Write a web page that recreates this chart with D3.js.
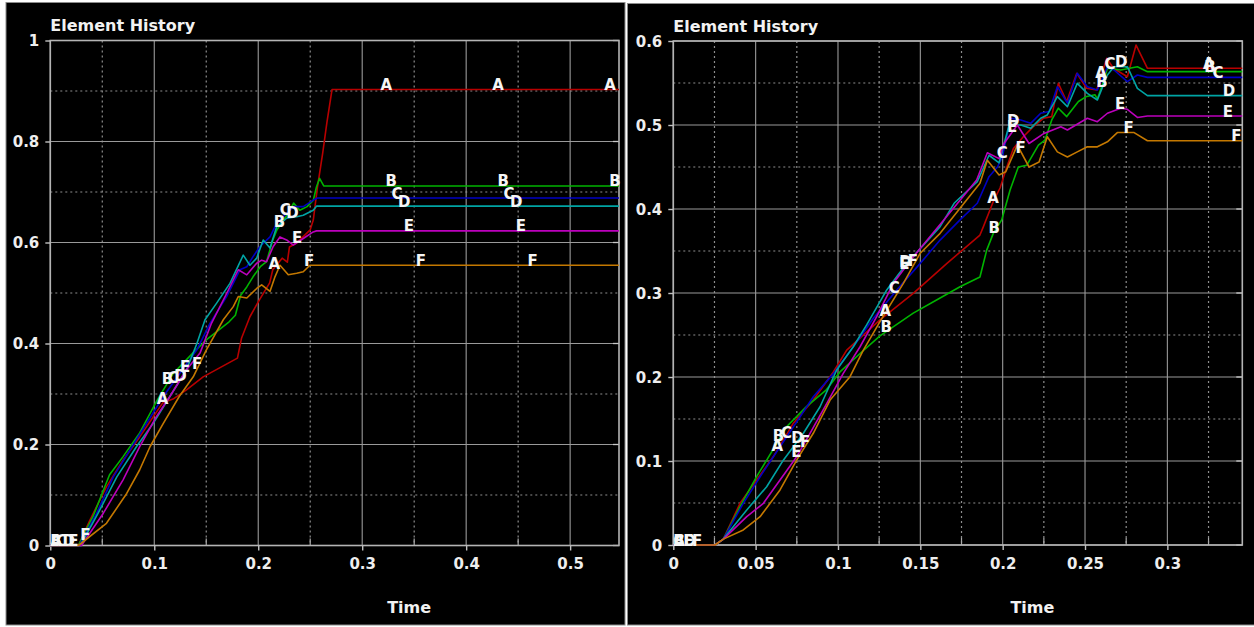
<!DOCTYPE html>
<html><head><meta charset="utf-8">
<script src="https://cdn.jsdelivr.net/npm/d3@7"></script>
<style>
html,body{margin:0;padding:0;background:#fff;}
svg{display:block;}
text{font-family:"DejaVu Sans",Verdana,sans-serif;font-weight:bold;}
</style></head><body>
<svg id="chart" width="1254" height="627"></svg>
<script>
// ---------- DATA ----------
const seriesNames = ["A","B","C","D","E","F"];

// Left panel: [time, value]
const leftA = [[0,0],[0.027,0],[0.038,0.05],[0.054,0.116],[0.070,0.169],[0.086,0.215],[0.099,0.255],[0.108,0.282],[0.118,0.290],[0.131,0.308],[0.147,0.334],[0.180,0.371],[0.184,0.411],[0.192,0.453],[0.201,0.486],[0.211,0.520],[0.214,0.546],[0.223,0.569],[0.228,0.561],[0.230,0.591],[0.237,0.599],[0.243,0.611],[0.250,0.625],[0.253,0.645],[0.255,0.678],[0.257,0.710],[0.262,0.777],[0.266,0.837],[0.271,0.903],[0.547,0.903]];
const leftB = [[0,0],[0.027,0],[0.041,0.057],[0.057,0.140],[0.070,0.176],[0.086,0.223],[0.102,0.285],[0.118,0.340],[0.137,0.381],[0.150,0.407],[0.172,0.443],[0.178,0.456],[0.183,0.495],[0.189,0.512],[0.195,0.532],[0.202,0.552],[0.208,0.562],[0.214,0.605],[0.218,0.625],[0.224,0.644],[0.229,0.658],[0.234,0.678],[0.240,0.664],[0.247,0.671],[0.253,0.684],[0.256,0.710],[0.259,0.727],[0.263,0.712],[0.547,0.712]];
const leftC = [[0,0],[0.028,0],[0.0446,0.064],[0.0606,0.136],[0.0766,0.189],[0.0927,0.242],[0.1087,0.295],[0.1247,0.341],[0.1408,0.387],[0.1536,0.440],[0.1696,0.493],[0.1824,0.546],[0.189,0.552],[0.195,0.572],[0.2017,0.592],[0.2113,0.611],[0.2177,0.638],[0.224,0.651],[0.2337,0.671],[0.2433,0.671],[0.253,0.684],[0.257,0.688],[0.547,0.688]];
const leftD = [[0,0],[0.029,0],[0.046,0.064],[0.064,0.136],[0.083,0.196],[0.099,0.242],[0.115,0.295],[0.131,0.348],[0.141,0.400],[0.1488,0.447],[0.160,0.480],[0.1728,0.519],[0.1856,0.575],[0.192,0.555],[0.1985,0.569],[0.2048,0.605],[0.2113,0.589],[0.2177,0.631],[0.2273,0.648],[0.237,0.651],[0.2433,0.654],[0.2529,0.664],[0.256,0.672],[0.547,0.672]];
const leftE = [[0,0],[0.03,0],[0.051,0.064],[0.070,0.130],[0.086,0.196],[0.102,0.255],[0.115,0.295],[0.131,0.348],[0.144,0.381],[0.155,0.440],[0.1696,0.499],[0.1808,0.546],[0.189,0.536],[0.1985,0.559],[0.2033,0.565],[0.208,0.562],[0.2144,0.592],[0.2209,0.611],[0.2273,0.605],[0.2337,0.595],[0.2433,0.608],[0.2529,0.621],[0.256,0.623],[0.547,0.623]];
const leftF = [[0,0],[0.027,0],[0.054,0.044],[0.0735,0.103],[0.086,0.150],[0.096,0.196],[0.1087,0.242],[0.124,0.295],[0.1375,0.334],[0.150,0.387],[0.1664,0.447],[0.176,0.473],[0.1808,0.493],[0.189,0.490],[0.1985,0.509],[0.2033,0.516],[0.2113,0.503],[0.2161,0.532],[0.2209,0.555],[0.2289,0.536],[0.237,0.539],[0.2433,0.542],[0.2497,0.555],[0.547,0.555]];

// Right panel: [time, value]
const rightA = [[0,0],[0.0253,0],[0.0304,0.007],[0.0405,0.0496],[0.0506,0.0774],[0.0607,0.105],[0.0729,0.145],[0.085,0.1726],[0.0972,0.206],[0.1053,0.232],[0.1255,0.268],[0.1457,0.2996],[0.166,0.335],[0.1862,0.369],[0.1883,0.379],[0.1943,0.409],[0.1984,0.425],[0.2025,0.450],[0.2065,0.472],[0.2125,0.486],[0.2186,0.498],[0.2247,0.508],[0.2298,0.510],[0.2338,0.5496],[0.2389,0.528],[0.245,0.5615],[0.251,0.5437],[0.2571,0.5417],[0.2632,0.5794],[0.2672,0.5675],[0.2757,0.5575],[0.281,0.5952],[0.2879,0.5675],[0.3455,0.5675]];
const rightB = [[0,0],[0.0253,0],[0.0304,0.007],[0.0405,0.0456],[0.0506,0.0813],[0.0567,0.101],[0.0689,0.141],[0.081,0.165],[0.0931,0.185],[0.1012,0.206],[0.1134,0.228],[0.1255,0.249],[0.1457,0.276],[0.162,0.294],[0.1741,0.3075],[0.1862,0.319],[0.1903,0.351],[0.1943,0.371],[0.1994,0.387],[0.2045,0.4226],[0.2095,0.450],[0.2146,0.452],[0.2217,0.476],[0.2257,0.482],[0.2298,0.506],[0.2338,0.520],[0.2389,0.510],[0.246,0.528],[0.251,0.534],[0.256,0.536],[0.2575,0.531],[0.2615,0.5536],[0.2636,0.5675],[0.2717,0.5655],[0.2818,0.5694],[0.2879,0.5635],[0.3455,0.5635]];
const rightC = [[0,0],[0.0253,0],[0.0304,0.007],[0.0425,0.0496],[0.0527,0.0813],[0.0648,0.117],[0.077,0.1527],[0.085,0.1765],[0.0972,0.204],[0.1093,0.236],[0.1215,0.270],[0.1357,0.3036],[0.1498,0.335],[0.162,0.363],[0.1741,0.387],[0.1846,0.4068],[0.1917,0.4385],[0.1968,0.450],[0.1998,0.462],[0.2049,0.508],[0.211,0.506],[0.217,0.502],[0.2231,0.514],[0.2282,0.516],[0.2332,0.5456],[0.2393,0.526],[0.2453,0.5615],[0.2514,0.5456],[0.2575,0.5417],[0.2636,0.5694],[0.2676,0.5655],[0.2757,0.5516],[0.2818,0.5595],[0.2879,0.5567],[0.3455,0.5567]];
const rightD = [[0,0],[0.0253,0],[0.0304,0.007],[0.0446,0.0417],[0.0567,0.0694],[0.0668,0.101],[0.079,0.133],[0.0891,0.1646],[0.0992,0.2083],[0.1093,0.236],[0.1174,0.262],[0.1296,0.3036],[0.1417,0.335],[0.162,0.379],[0.1705,0.4068],[0.1846,0.4325],[0.1917,0.464],[0.1978,0.455],[0.2039,0.5],[0.211,0.5],[0.217,0.496],[0.2231,0.508],[0.2271,0.512],[0.2332,0.5337],[0.2393,0.5218],[0.2453,0.5496],[0.2514,0.5377],[0.2575,0.5298],[0.2636,0.5595],[0.2676,0.5694],[0.2757,0.5694],[0.2818,0.5437],[0.2879,0.535],[0.3455,0.535]];
const rightE = [[0,0],[0.0253,0],[0.0304,0.007],[0.0446,0.0337],[0.0547,0.0496],[0.0648,0.0774],[0.0749,0.105],[0.083,0.133],[0.0932,0.1687],[0.1032,0.2044],[0.1134,0.236],[0.1235,0.272],[0.1336,0.3115],[0.1457,0.343],[0.166,0.391],[0.1842,0.4345],[0.1907,0.467],[0.1978,0.460],[0.2008,0.478],[0.2089,0.5],[0.216,0.478],[0.2251,0.490],[0.2353,0.498],[0.2393,0.494],[0.2514,0.508],[0.2575,0.504],[0.2636,0.514],[0.2717,0.520],[0.2757,0.5187],[0.2818,0.509],[0.2879,0.5107],[0.3455,0.5107]];
const rightF = [[0,0],[0.0253,0],[0.0304,0.007],[0.0425,0.0179],[0.0527,0.0337],[0.0648,0.0655],[0.0749,0.101],[0.085,0.133],[0.0952,0.1726],[0.1073,0.2004],[0.1154,0.232],[0.1255,0.266],[0.1397,0.3115],[0.1498,0.347],[0.162,0.371],[0.1862,0.4306],[0.1907,0.458],[0.1978,0.4405],[0.2019,0.4444],[0.2089,0.476],[0.216,0.450],[0.2221,0.456],[0.2271,0.486],[0.2332,0.468],[0.2393,0.462],[0.2453,0.468],[0.2514,0.474],[0.2575,0.474],[0.2636,0.480],[0.2696,0.491],[0.2798,0.491],[0.2879,0.4813],[0.3455,0.4813]];

// Axes / ticks
const leftXDomain = [0, 0.547];
const leftYDomain = [0, 1];
const leftXTicks = [0, 0.1, 0.2, 0.3, 0.4, 0.5];
const leftXTickLabels = ["0", "0.1", "0.2", "0.3", "0.4", "0.5"];
const leftXMinor = [0.05, 0.15, 0.25, 0.35, 0.45];
const leftYTicks = [0, 0.2, 0.4, 0.6, 0.8, 1];
const leftYTickLabels = ["0", "0.2", "0.4", "0.6", "0.8", "1"];
const leftYMinor = [0.1, 0.3, 0.5, 0.7, 0.9];

const rightXDomain = [0, 0.3455];
const rightYDomain = [0, 0.6];
const rightXTicks = [0, 0.05, 0.1, 0.15, 0.2, 0.25, 0.3];
const rightXTickLabels = ["0", "0.05", "0.1", "0.15", "0.2", "0.25", "0.3"];
const rightXMinor = [0.025, 0.075, 0.125, 0.175, 0.225, 0.275, 0.325];
const rightYTicks = [0, 0.1, 0.2, 0.3, 0.4, 0.5, 0.6];
const rightYTickLabels = ["0", "0.1", "0.2", "0.3", "0.4", "0.5", "0.6"];
const rightYMinor = [0.05, 0.15, 0.25, 0.35, 0.45, 0.55];

// Curve letter labels: group positions (time) and per-series time offsets
const leftLabelStarts = [0, 0.1076, 0.2152, 0.3228, 0.4304, 0.538];
const leftLabelOffsets = [0, 0.005, 0.0107, 0.017, 0.0225, 0.034];
const rightLabelStarts = [-0.0025, 0.063, 0.1285, 0.194, 0.2595, 0.325];
const rightLabelOffsets = [0, 0.0007, 0.0057, 0.012, 0.012, 0.0172];

const titleText = "Element History";
const xAxisTitle = "Time";

// ---------- STYLE / LAYOUT ----------
const seriesColors = ["#b80000", "#00b400", "#0000c4", "#00a4a4", "#bc00bc", "#c47800"];
const svg = d3.select("#chart");

svg.append("rect").attr("x", 0).attr("y", 0).attr("width", 1254).attr("height", 627).attr("fill", "#fff");
svg.append("rect").attr("x", 6).attr("y", 2.5).attr("width", 619).attr("height", 622.5)
  .attr("fill", "#000").attr("stroke", "#8c8c8c").attr("stroke-width", 1);
svg.append("rect").attr("x", 627.5).attr("y", 3.5).attr("width", 627).attr("height", 621.5)
  .attr("fill", "#000").attr("stroke", "#8c8c8c").attr("stroke-width", 1);

function interp(series, t) {
  if (t <= series[0][0]) return series[0][1];
  for (let i = 1; i < series.length; i++) {
    if (t <= series[i][0]) {
      const a = series[i - 1], b = series[i];
      return a[1] + (b[1] - a[1]) * (t - a[0]) / (b[0] - a[0]);
    }
  }
  return series[series.length - 1][1];
}

function drawPanel(cfg) {
  const g = svg.append("g");
  const x = d3.scaleLinear().domain(cfg.xDomain).range([cfg.x0, cfg.x1]);
  const y = d3.scaleLinear().domain(cfg.yDomain).range([cfg.y1, cfg.y0]);

  g.selectAll(".mx").data(cfg.xMinor).enter().append("line")
    .attr("x1", d => x(d)).attr("x2", d => x(d)).attr("y1", cfg.y0).attr("y2", cfg.y1)
    .attr("stroke", "#8e8e8e").attr("stroke-width", 1.2).attr("stroke-dasharray", "2,3");
  g.selectAll(".my").data(cfg.yMinor).enter().append("line")
    .attr("y1", d => y(d)).attr("y2", d => y(d)).attr("x1", cfg.x0).attr("x2", cfg.x1)
    .attr("stroke", "#8e8e8e").attr("stroke-width", 1.2).attr("stroke-dasharray", "2,3");
  g.selectAll(".gx").data(cfg.xTicks).enter().append("line")
    .attr("x1", d => x(d)).attr("x2", d => x(d)).attr("y1", cfg.y0).attr("y2", cfg.y1)
    .attr("stroke", "#9a9a9a").attr("stroke-width", 1.1);
  g.selectAll(".gy").data(cfg.yTicks).enter().append("line")
    .attr("y1", d => y(d)).attr("y2", d => y(d)).attr("x1", cfg.x0).attr("x2", cfg.x1)
    .attr("stroke", "#9a9a9a").attr("stroke-width", 1.1);
  g.selectAll(".tmx").data(cfg.xMinor).enter().append("line")
    .attr("x1", d => x(d)).attr("x2", d => x(d)).attr("y1", cfg.y1).attr("y2", cfg.y1 - 7)
    .attr("stroke", "#a8a8a8").attr("stroke-width", 1.2);
  g.selectAll(".try").data(cfg.yTicks).enter().append("line")
    .attr("y1", d => y(d)).attr("y2", d => y(d)).attr("x1", cfg.x1 - 6).attr("x2", cfg.x1)
    .attr("stroke", "#c8c8c8").attr("stroke-width", 1.3);

  g.append("rect").attr("x", cfg.x0).attr("y", cfg.y0)
    .attr("width", cfg.x1 - cfg.x0).attr("height", cfg.y1 - cfg.y0)
    .attr("fill", "none").attr("stroke", "#b4b4b4").attr("stroke-width", 1.6);

  const xAxis = d3.axisBottom(x).tickValues(cfg.xTicks)
    .tickFormat((d, i) => cfg.xTickLabels[i]).tickSize(5).tickPadding(8);
  const yAxis = d3.axisLeft(y).tickValues(cfg.yTicks)
    .tickFormat((d, i) => cfg.yTickLabels[i]).tickSize(5).tickPadding(6);
  const gx = g.append("g").attr("transform", `translate(0,${cfg.y1})`).call(xAxis);
  const gy = g.append("g").attr("transform", `translate(${cfg.x0},0)`).call(yAxis);
  [gx, gy].forEach(a => {
    a.select(".domain").remove();
    a.selectAll(".tick line").attr("stroke", "#c0c0c0").attr("stroke-width", 1.4);
    a.selectAll(".tick text").attr("fill", "#eeeeee")
      .style("font-family", '"DejaVu Sans",Verdana,sans-serif')
      .style("font-weight", "bold").style("font-size", "15px");
  });
  gy.selectAll(".tick text").attr("dy", "0.36em");

  const line = d3.line().x(d => x(d[0])).y(d => y(d[1]));
  cfg.series.forEach((s, i) => {
    g.append("path").datum(s).attr("d", line).attr("fill", "none")
      .attr("stroke", seriesColors[i]).attr("stroke-width", 1.6)
      .attr("stroke-linejoin", "round");
  });

  const tMax = cfg.xDomain[1];
  cfg.series.forEach((s, i) => {
    cfg.labelStarts.forEach(st => {
      const tc = st + cfg.labelOffsets[i];
      if (tc > tMax) return;
      let xc = x(tc);
      const xs = Math.max(cfg.x0, xc - 5.5);
      xc = xs + 5.5;
      const tv = x.invert(xc);
      const yy = y(interp(s, tv));
      g.append("text").attr("x", xs).attr("y", yy + 0.5)
        .attr("fill", "#f6f6f6").style("font-size", "15px")
        .text(seriesNames[i]);
    });
  });

  g.append("text").attr("x", cfg.x0).attr("y", cfg.titleY)
    .attr("fill", "#f2f2f2").style("font-size", "16px").text(titleText);
  g.append("text").attr("x", cfg.x0 + 0.631 * (cfg.x1 - cfg.x0)).attr("y", 613)
    .attr("text-anchor", "middle").attr("fill", "#f2f2f2").style("font-size", "16px").text(xAxisTitle);
}

drawPanel({
  x0: 50.3, x1: 619, y0: 40.5, y1: 545.5, titleY: 31,
  xDomain: leftXDomain, yDomain: leftYDomain,
  xTicks: leftXTicks, xTickLabels: leftXTickLabels, xMinor: leftXMinor,
  yTicks: leftYTicks, yTickLabels: leftYTickLabels, yMinor: leftYMinor,
  series: [leftA, leftB, leftC, leftD, leftE, leftF],
  labelStarts: leftLabelStarts, labelOffsets: leftLabelOffsets
});
drawPanel({
  x0: 673.3, x1: 1242.3, y0: 41, y1: 545, titleY: 32,
  xDomain: rightXDomain, yDomain: rightYDomain,
  xTicks: rightXTicks, xTickLabels: rightXTickLabels, xMinor: rightXMinor,
  yTicks: rightYTicks, yTickLabels: rightYTickLabels, yMinor: rightYMinor,
  series: [rightA, rightB, rightC, rightD, rightE, rightF],
  labelStarts: rightLabelStarts, labelOffsets: rightLabelOffsets
});
</script>
</body></html>
